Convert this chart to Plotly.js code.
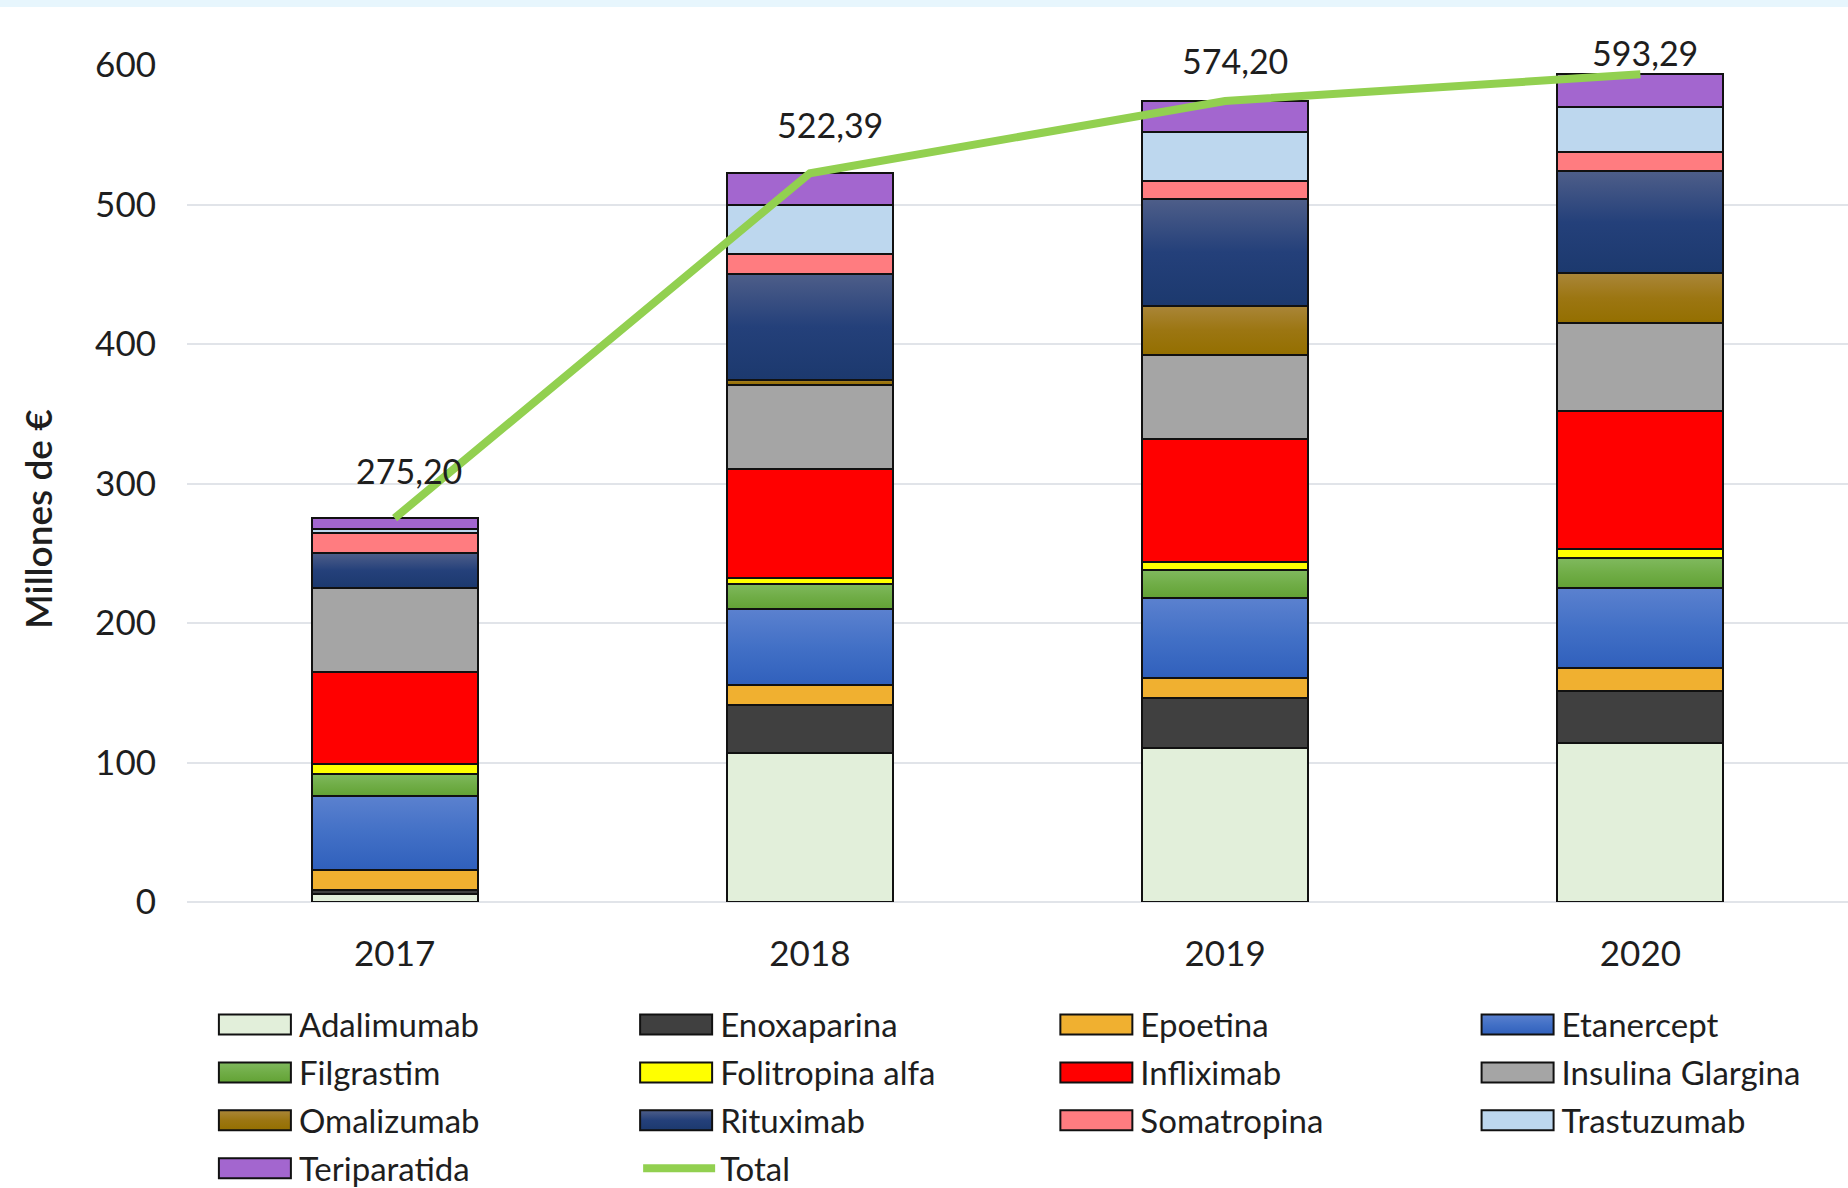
<!DOCTYPE html>
<html><head><meta charset="utf-8">
<script src="https://cdn.plot.ly/plotly-3.0.1.min.js"></script>
<style>
html,body{margin:0;padding:0;background:#fff;overflow:hidden}
#topband{position:absolute;left:0;top:0;width:1848px;height:7px;background:#E7F6FD;z-index:5}
#chart{position:absolute;left:0;top:0;width:1848px;height:1188px}
</style>
</head><body><div id="topband"></div><div id="chart"></div>
<script>
// ---- data ----
const years = ['2017', '2018', '2019', '2020'];
const adalimumab   = [6.0, 107.0, 110.4, 113.9];
const enoxaparina  = [2.4, 33.9, 36.1, 37.7];
const epoetina     = [14.4, 14.4, 14.0, 16.2];
const etanercept   = [53.2, 54.4, 57.4, 57.4];
const filgrastim   = [15.8, 18.5, 19.9, 21.3];
const folitropina  = [7.2, 4.3, 6.2, 6.5];
const infliximab   = [65.7, 78.1, 88.1, 98.9];
const insulina     = [60.2, 60.2, 60.3, 63.3];
const omalizumab   = [0.0, 3.6, 35.2, 35.5];
const rituximab    = [25.0, 76.0, 76.4, 73.1];
const somatropina  = [14.4, 14.3, 12.6, 14.1];
const trastuzumab  = [3.1, 35.2, 35.2, 32.1];
const teriparatida = [7.8, 22.5, 22.4, 23.3];
const totals       = [275.20, 522.39, 574.20, 593.29];

const seriesNames = ['Adalimumab','Enoxaparina','Epoetina','Etanercept','Filgrastim','Folitropina alfa',
  'Infliximab','Insulina Glargina','Omalizumab','Rituximab','Somatropina','Trastuzumab','Teriparatida'];
const seriesValues = [adalimumab, enoxaparina, epoetina, etanercept, filgrastim, folitropina,
  infliximab, insulina, omalizumab, rituximab, somatropina, trastuzumab, teriparatida];

// ---- styles ----
const colors = ['#E2EFDA','#404040','#F0B030','#4472C4','#70AD47','#FFFF00',
  '#FF0000','#A5A5A5','#9C7412','#2A4479','#FF7C80','#BDD7EE','#A366CF'];
// vertical gradients (top -> bottom) for some series, as in the original
const gradients = {
  3: ['#5B81CF', '#4270C6', '#3060BC'],
  4: ['#80B95E', '#70AD47', '#62A234'],
  8: ['#AA8639', '#9C7612', '#946F00'],
  9: ['#4E5E89', '#24407A', '#1C396E']
};
const legendOf = ['legend','legend2','legend3','legend4'];
const FONT = 'Lato, "Open Sans", sans-serif';
const TXT = '#1e1e1e';

const traces = seriesNames.map((name, i) => ({
  type: 'bar', name: name, x: years, y: seriesValues[i],
  marker: {color: colors[i], line: {color: '#111', width: 2}},
  legend: legendOf[i % 4], legendgroup: 'g' + i,
  hoverinfo: 'name+y'
}));
traces.push({
  type: 'scatter', mode: 'lines', name: 'Total', x: years, y: totals,
  line: {color: '#92D050', width: 8},
  legend: 'legend2', legendgroup: 'gT', hoverinfo: 'y'
});

const fmt = v => v.toFixed(2).replace('.', ',');
const labelDx = [14, 20, 10, 5];
const labelDy = [48, 49, 40, 22];
const annotations = totals.map((t, i) => ({
  x: i, y: t, xref: 'x', yref: 'y', text: fmt(t), showarrow: false,
  xshift: labelDx[i], yshift: labelDy[i], font: {family: FONT, size: 34, color: TXT}
}));
annotations.push({
  text: 'Millones de €', xref: 'paper', yref: 'paper', x: -0.0897, y: 0.4577,
  xanchor: 'center', yanchor: 'middle',
  textangle: -90, showarrow: false, font: {family: FONT, size: 37, color: TXT, weight: 600}
});

const legBase = {
  orientation: 'v', y: -0.113, yanchor: 'top', xanchor: 'left',
  font: {family: FONT, size: 33, color: TXT}, bgcolor: 'rgba(0,0,0,0)',
  tracegroupgap: 2, itemwidth: 72, traceorder: 'grouped'
};

const layout = {
  width: 1848, height: 1188,
  margin: {l: 187, r: 0, t: 65, b: 286, autoexpand: false},
  paper_bgcolor: '#fff', plot_bgcolor: '#fff',
  barmode: 'stack', bargap: 0.6,
  font: {family: FONT, color: TXT},
  xaxis: {type: 'category', range: [-0.5, 3.5], showgrid: false, zeroline: false, showline: false, ticks: '',
    tickfont: {family: FONT, size: 35, color: TXT}, ticklabelstandoff: 28},
  yaxis: {range: [0, 600], dtick: 100, showgrid: true, gridcolor: '#E1E4E9', gridwidth: 2,
    zeroline: true, zerolinecolor: '#E1E4E9', zerolinewidth: 2, showline: false, ticks: '',
    tickfont: {family: FONT, size: 35, color: TXT}, ticklabelstandoff: 30},
  legend:  Object.assign({}, legBase, {x: 0.018}),
  legend2: Object.assign({}, legBase, {x: 0.2716}),
  legend3: Object.assign({}, legBase, {x: 0.5246}),
  legend4: Object.assign({}, legBase, {x: 0.7782}),
  annotations: annotations,
  showlegend: true
};

Plotly.newPlot('chart', traces, layout, {displayModeBar: false, staticPlot: true}).then(gd => {
  const NS = 'http://www.w3.org/2000/svg';
  const svg = gd.querySelector('svg.main-svg');
  const defs = document.createElementNS(NS, 'defs');
  Object.keys(gradients).forEach(k => {
    const lg = document.createElementNS(NS, 'linearGradient');
    lg.setAttribute('id', 'grad' + k);
    lg.setAttribute('x1', '0'); lg.setAttribute('y1', '0');
    lg.setAttribute('x2', '0'); lg.setAttribute('y2', '1');
    gradients[k].forEach((c, j, arr) => {
      const st = document.createElementNS(NS, 'stop');
      st.setAttribute('offset', (j / (arr.length - 1) * 100) + '%');
      st.setAttribute('stop-color', c);
      lg.appendChild(st);
    });
    defs.appendChild(lg);
  });
  svg.insertBefore(defs, svg.firstChild);
  // bar segments
  const barTraces = gd.querySelectorAll('.barlayer .trace');
  barTraces.forEach((tr, i) => {
    if (gradients[i]) tr.querySelectorAll('path').forEach(p => { p.style.fill = 'url(#grad' + i + ')'; });
  });
  // wider legend swatches, like the original
  gd.querySelectorAll('g.traces').forEach(item => {
    const dd = item.__data__ && item.__data__[0] && item.__data__[0].trace;
    item.querySelectorAll('g.legendpoints path').forEach(p => {
      const dAttr = p.getAttribute('d') || '';
      if (p.classList.contains('js-line')) {
        p.style.strokeLinecap = 'round';
        const m = dAttr.match(/^M5,0h([\d.]+)$/);
        if (m) p.setAttribute('d', 'M-1,0h' + (parseFloat(m[1]) + 8));
        return;
      }
      if (dAttr.indexOf('M6,6') === 0) {
        p.setAttribute('d', 'M33,10H-39V-10H33Z');
        if (dd && gradients[dd.index]) p.style.fill = 'url(#grad' + dd.index + ')';
      }
    });
  });
});
</script>
</body></html>
